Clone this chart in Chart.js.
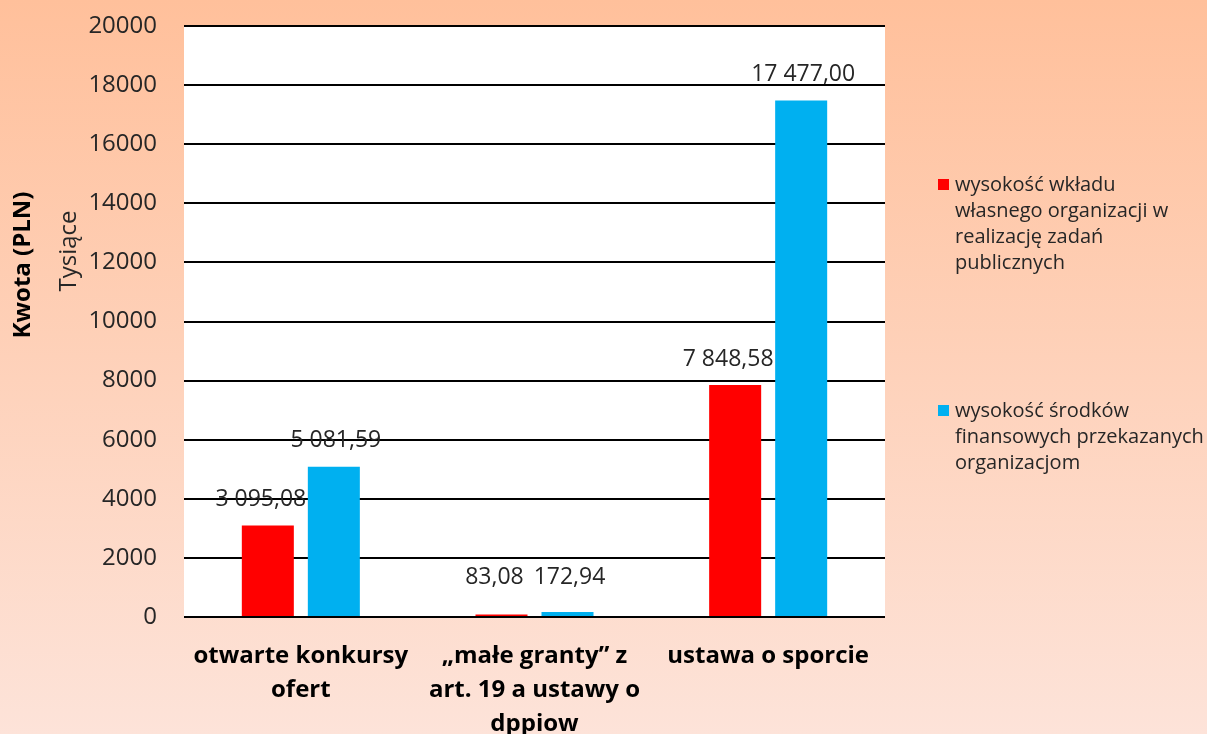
<!DOCTYPE html>
<html>
<head>
<meta charset="utf-8">
<script src="https://cdn.jsdelivr.net/npm/chart.js@4.4.0/dist/chart.umd.min.js"></script>
<style>
html, body { margin: 0; padding: 0; }
body {
    width: 1207px; height: 734px; overflow: hidden;
    background: linear-gradient(#ffc09b, #fde3d9);
    font-family: 'Open Sans', sans-serif;
}
#wrap { position: relative; width: 1207px; height: 734px; }
#legend { position: absolute; left: 936px; top: 171px; font-size: 20px; line-height: 26px; color: #262626; }
.item { position: relative; padding-left: 19px; }
.item + .item { margin-top: 122px; }
.box { position: absolute; left: 2px; top: 8px; width: 11px; height: 11px; }
</style>
</head>
<body>
<div id="wrap">
    <canvas id="myChart"></canvas>
    <div id="legend"></div>
</div>
<script>
// data
const categories = [
    ['otwarte konkursy', 'ofert'],
    ['\u201emałe granty\u201d z', 'art. 19 a ustawy o', 'dppiow'],
    'ustawa o sporcie'
];
const ownContribution = [3095.08, 83.08, 7848.58];
const fundsTransferred = [5081.59, 172.94, 17477.00];
const seriesNames = [
    ['wysokość wkładu', 'własnego organizacji w', 'realizację zadań', 'publicznych'],
    ['wysokość środków', 'finansowych przekazanych', 'organizacjom']
];
const seriesColors = ['#FF0000', '#00B0F0'];

// polish number format: 3 095,08
function formatPL(v) {
    const parts = v.toFixed(2).split('.');
    return parts[0].replace(/\B(?=(\d{3})+(?!\d))/g, ' ') + ',' + parts[1];
}

// white plot area
const plotBackground = {
    id: 'plotBackground',
    beforeDraw(chart) {
        const a = chart.chartArea;
        chart.ctx.save();
        chart.ctx.fillStyle = '#ffffff';
        chart.ctx.fillRect(a.left, a.top, a.right - a.left, a.bottom - a.top);
        chart.ctx.restore();
    }
};

// values above bars (excel nudges red labels left a bit)
const labelShift = [-7, 2];
const valueLabels = {
    id: 'valueLabels',
    afterDatasetsDraw(chart) {
        const ctx = chart.ctx;
        ctx.save();
        ctx.font = '23px "Open Sans"';
        ctx.fillStyle = '#262626';
        ctx.textAlign = 'center';
        ctx.textBaseline = 'middle';
        chart.data.datasets.forEach((ds, i) => {
            chart.getDatasetMeta(i).data.forEach((bar, j) => {
                ctx.fillText(formatPL(ds.data[j]), bar.x + labelShift[i], Math.min(bar.y - 26, bar.base - 39));
            });
        });
        ctx.restore();
    }
};

// axis titles (Kwota + display unit)
const axisTitles = {
    id: 'axisTitles',
    afterDraw(chart) {
        const ctx = chart.ctx;
        ctx.save();
        ctx.fillStyle = '#000000';
        ctx.textAlign = 'center';
        ctx.textBaseline = 'middle';
        ctx.translate(23, 265);
        ctx.rotate(-Math.PI / 2);
        ctx.font = 'bold 24px "Open Sans"';
        ctx.fillText('Kwota (PLN)', 0, 0);
        ctx.restore();

        ctx.save();
        ctx.fillStyle = '#262626';
        ctx.textAlign = 'center';
        ctx.textBaseline = 'middle';
        ctx.translate(69, 251);
        ctx.rotate(-Math.PI / 2);
        ctx.font = '24px "Open Sans"';
        ctx.fillText('Tysiące', 0, 0);
        ctx.restore();
    }
};

const ctx = document.getElementById('myChart').getContext('2d');

new Chart(ctx, {
    type: 'bar',
    data: {
        labels: categories,
        datasets: [{
            label: seriesNames[0].join(' '),
            data: ownContribution,
            backgroundColor: seriesColors[0],
            barPercentage: 0.788,
            categoryPercentage: 0.565
        }, {
            label: seriesNames[1].join(' '),
            data: fundsTransferred,
            backgroundColor: seriesColors[1],
            barPercentage: 0.788,
            categoryPercentage: 0.565
        }]
    },
    options: {
        responsive: true,
        maintainAspectRatio: false,
        animation: false,
        layout: {
            padding: { left: 0, right: 322, top: 26, bottom: 0 }
        },
        scales: {
            x: {
                grid: { display: false },
                border: { display: false },
                ticks: {
                    color: '#000000',
                    padding: 14,
                    maxRotation: 0,
                    font: { family: 'Open Sans', size: 24, weight: 'bold', lineHeight: 1.42 }
                },
                afterFit(scale) { scale.height = 117; }
            },
            y: {
                min: 0,
                max: 20000,
                border: { display: false },
                grid: { color: '#000000', lineWidth: 2, drawTicks: false },
                ticks: {
                    stepSize: 2000,
                    color: '#262626',
                    padding: 27,
                    font: { family: 'Open Sans', size: 24 },
                    callback: (v) => String(v)
                },
                afterFit(scale) {
                    scale.width = 184;
                    scale.paddingTop = 0;   // tick padding otherwise pushes plot top down
                }
            }
        },
        plugins: {
            legend: { display: false },
            tooltip: { enabled: false }
        }
    },
    plugins: [plotBackground, valueLabels, axisTitles]
});

// legend on the right
const legend = document.getElementById('legend');
seriesNames.forEach((lines, i) => {
    const item = document.createElement('div');
    item.className = 'item';
    item.innerHTML = '<span class="box" style="background:' + seriesColors[i] + '"></span>' + lines.join('<br>');
    legend.appendChild(item);
});
</script>
</body>
</html>
